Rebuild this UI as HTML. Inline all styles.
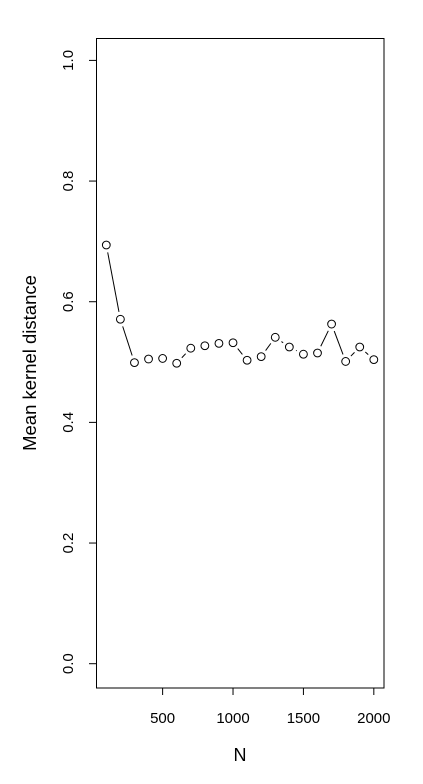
<!DOCTYPE html>
<html><head><meta charset="utf-8"><style>
html,body{margin:0;padding:0;background:#fff;}
svg{display:block;font-family:"Liberation Sans",sans-serif;}
</style></head><body>
<svg id="chart" width="423" height="784" viewBox="0 0 423 784" xmlns="http://www.w3.org/2000/svg">
<rect x="96.5" y="38.5" width="287.5" height="649.5" fill="none" stroke="#000" stroke-width="1"/>
<g id="axes"></g>
<g id="marks"></g>
<text x="240" y="761" font-size="18" text-anchor="middle">N</text>
<text transform="translate(36,363) rotate(-90)" font-size="18.5" text-anchor="middle">Mean kernel distance</text>
</svg>
<script>
const nValues = [100,200,300,400,500,600,700,800,900,1000,1100,1200,1300,1400,1500,1600,1700,1800,1900,2000];
const distValues = [0.694,0.571,0.499,0.505,0.506,0.498,0.523,0.527,0.531,0.532,0.503,0.509,0.541,0.525,0.513,0.515,0.563,0.501,0.525,0.504];
const xTicks = [500,1000,1500,2000];
const yTicks = [0.0,0.2,0.4,0.6,0.8,1.0];
const yTickLabels = ["0.0","0.2","0.4","0.6","0.8","1.0"];

const NS = "http://www.w3.org/2000/svg";
function xs(v){ return 106.3 + (v-100)*0.1408; }
function ys(v){ return 663.7 - v*603.3; }
const axes = document.getElementById('axes');
const marks = document.getElementById('marks');
function mk(tag, attrs, parent){ const e=document.createElementNS(NS,tag); for(const k in attrs) e.setAttribute(k,attrs[k]); parent.appendChild(e); return e; }

mk('line',{x1:xs(500),x2:xs(2000),y1:688,y2:688,stroke:'#000'},axes);
xTicks.forEach(t=>{
  const l=mk('line',{x1:xs(t),x2:xs(t),y1:688,y2:695,stroke:'#000'},axes);
  
  
  const tx=mk('text',{x:xs(t),y:723,'font-size':15,'text-anchor':'middle'},axes);
  tx.textContent=t;
  
  
});
mk('line',{x1:96.5,x2:96.5,y1:ys(0),y2:ys(1),stroke:'#000'},axes);
yTicks.forEach((t,i)=>{
  const l=mk('line',{x1:89,x2:96.5,y1:ys(t),y2:ys(t),stroke:'#000'},axes);
  
  
  const tx=mk('text',{'font-size':15,'text-anchor':'middle',transform:'translate(73,'+ys(t)+') rotate(-90)'},axes);
  tx.textContent=yTickLabels[i];
  
  
});
const gap=7.5;
for(let i=0;i<nValues.length-1;i++){
  const x1=xs(nValues[i]),y1=ys(distValues[i]),x2=xs(nValues[i+1]),y2=ys(distValues[i+1]);
  const d=Math.hypot(x2-x1,y2-y1);
  if(d<=2*gap) continue;
  const ux=(x2-x1)/d,uy=(y2-y1)/d;
  const l=mk('line',{x1:x1+ux*gap,y1:y1+uy*gap,x2:x2-ux*gap,y2:y2-uy*gap,stroke:'#000','stroke-width':1},marks);
  
  
}
nValues.forEach((n,i)=>{
  const c=mk('circle',{cx:xs(n),cy:ys(distValues[i]),r:3.9,fill:'none',stroke:'#000','stroke-width':1},marks);
  
  
});
</script>
</body></html>
